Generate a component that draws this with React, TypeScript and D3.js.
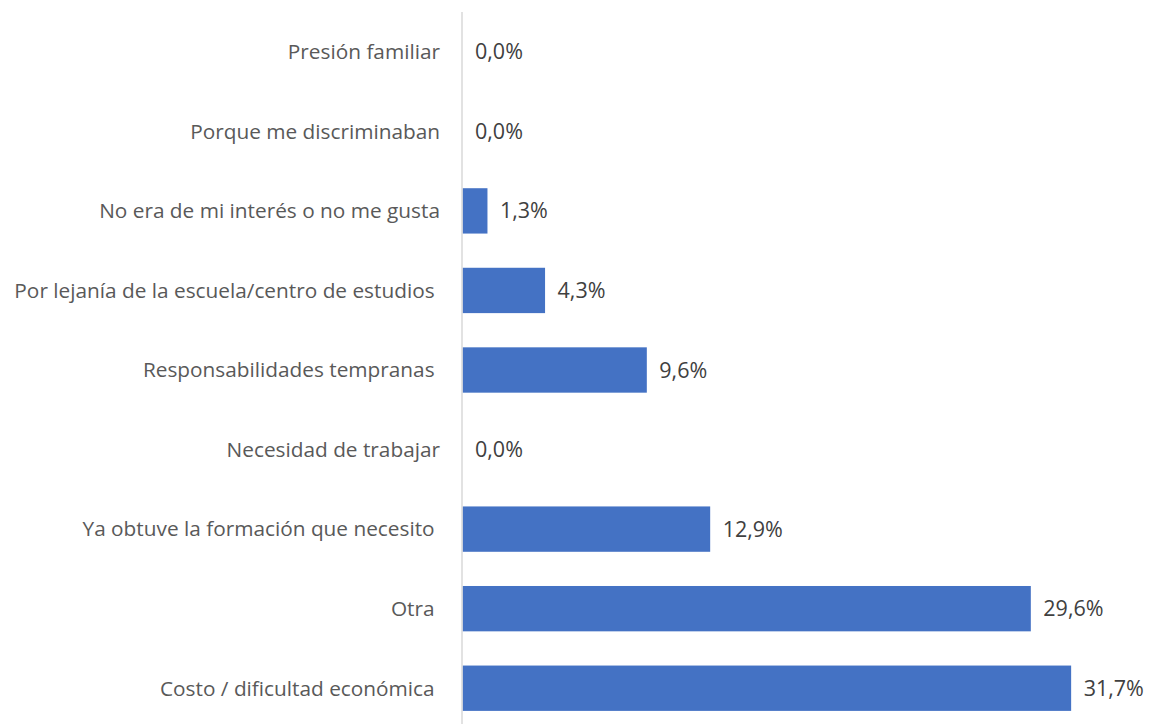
import React, { useEffect, useRef } from 'react';
import * as d3 from 'd3';

const categories = [
  'Presión familiar',
  'Porque me discriminaban',
  'No era de mi interés o no me gusta',
  'Por lejanía de la escuela/centro de estudios ',
  'Responsabilidades tempranas ',
  'Necesidad de trabajar',
  'Ya obtuve la formación que necesito ',
  'Otra ',
  'Costo / dificultad económica ',
];
const values = [0.0, 0.0, 1.3, 4.3, 9.6, 0.0, 12.9, 29.6, 31.7];

const W = 1150;
const H = 724;
const FONT = '"Open Sans", sans-serif';

export default function App() {
  const svgRef = useRef<SVGSVGElement | null>(null);

  useEffect(() => {
    const svg = d3.select(svgRef.current);
    svg.selectAll('*').remove();

    const x0 = 462.5;
    const x = d3.scaleLinear().domain([0, 35]).range([x0, x0 + 35 * 19.2]);
    const y = d3.scaleBand<string>().domain(categories).range([12, 728]).paddingInner(0.43).paddingOuter(0.215);

    const rows = categories.map((c, i) => ({ c, v: values[i] }));

    svg.append('g')
      .selectAll('rect')
      .data(rows)
      .join('rect')
      .attr('x', x(0))
      .attr('y', d => y(d.c)!)
      .attr('width', d => x(d.v) - x(0))
      .attr('height', y.bandwidth())
      .attr('fill', '#4472C4');

    svg.append('line')
      .attr('x1', x0 - 0.5).attr('x2', x0 - 0.5)
      .attr('y1', 12).attr('y2', 728)
      .attr('stroke', '#d9d9d9')
      .attr('stroke-width', 1.5);

    svg.append('g')
      .selectAll('text')
      .data(rows)
      .join('text')
      .attr('x', 440)
      .attr('y', d => y(d.c)! + y.bandwidth() / 2)
      .attr('dy', '0.35em')
      .attr('text-anchor', 'end')
      .style('white-space', 'pre')
      .attr('font-family', FONT)
      .attr('font-size', 20.8)
      .attr('fill', '#595959')
      .text(d => d.c);

    svg.append('g')
      .selectAll('text')
      .data(rows)
      .join('text')
      .attr('x', d => x(d.v) + 12.5)
      .attr('y', d => y(d.c)! + y.bandwidth() / 2)
      .attr('dy', '0.35em')
      .attr('font-family', FONT)
      .attr('font-size', 21.5)
      .attr('fill', '#404040')
      .text(d => d3.format('.1f')(d.v).replace('.', ',') + '%');
  }, []);

  return (
    <svg
      ref={svgRef}
      width={W}
      height={H}
      style={{ position: 'absolute', left: 0, top: 0, background: '#fff' }}
    />
  );
}
